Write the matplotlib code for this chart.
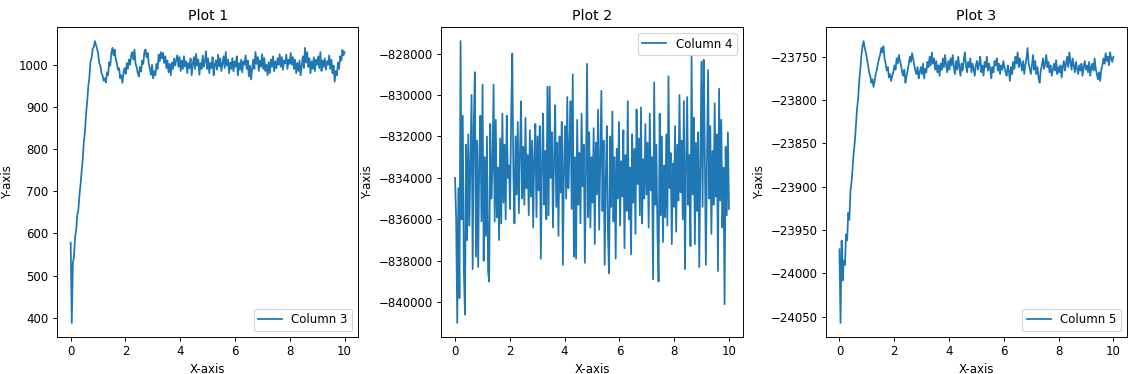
import numpy as np
import matplotlib
matplotlib.use("Agg")
import matplotlib.pyplot as plt

# values (250 samples over x = 0..10)
col3 = [
    578, 388, 530, 545, 592, 608, 643, 657, 692, 716, 748, 776, 818, 842, 884, 912, 948, 970, 1008, 1016, 1038, 1042, 1056, 1047, 1038,
    1026, 1004, 998, 980, 975, 962, 968, 958, 982, 975, 1006, 998, 1028, 1040, 1022, 1036, 1012, 1004, 988, 992, 968, 975, 957, 982, 992,
    978, 1004, 990, 1012, 1000, 1022, 1030, 1012, 1036, 1002, 994, 980, 972, 995, 984, 1010, 1002, 1030, 1036, 1018, 1028, 1002, 990, 976, 1000,
    968, 985, 975, 1002, 990, 1024, 1008, 1030, 1015, 1028, 1004, 1020, 992, 1010, 982, 1002, 975, 1005, 990, 1015, 998, 1012, 1022, 995, 1018,
    985, 1010, 990, 1020, 996, 1008, 980, 1004, 992, 1015, 975, 1002, 1018, 990, 1026, 998, 1012, 976, 1004, 990, 1022, 995, 1008, 1032, 990,
    1015, 980, 1004, 992, 1018, 975, 1000, 1010, 988, 1024, 996, 1015, 985, 1002, 1020, 992, 1030, 998, 1012, 980, 1005, 990, 1016, 984, 1008,
    995, 1020, 975, 1004, 988, 1012, 982, 1008, 1000, 1022, 990, 1010, 972, 998, 965, 992, 1012, 990, 1030, 1002, 1018, 985, 1010, 995, 1025,
    990, 1016, 985, 1000, 975, 1006, 980, 1012, 995, 1020, 984, 1008, 992, 1015, 1000, 1025, 995, 1018, 988, 1010, 1003, 1024, 990, 1012, 1002,
    1028, 1000, 1018, 990, 1012, 980, 1004, 985, 1010, 975, 998, 1020, 992, 1040, 1005, 1030, 995, 1015, 980, 1008, 990, 1018, 985, 1012, 1000,
    1020, 992, 1030, 985, 1010, 995, 1015, 988, 1008, 1000, 1022, 990, 1012, 980, 998, 960, 985, 975, 1005, 990, 1020, 1010, 1035, 1022, 1030,
]

col4 = [
    -834000, -836000, -841000, -834500, -839800, -827400, -836000, -831000, -838500, -840600, -832400, -837000, -831900, -836300, -833000, -830000, -838400, -831500, -828900, -837800, -832200, -838300, -833100, -831000, -836100,
    -829500, -838000, -833000, -836800, -832000, -838500, -839000, -831400, -835000, -833600, -829500, -836100, -831200, -835900, -833500, -837000, -832100, -836200, -830900, -835200, -832400, -836000, -831000, -834000, -833400,
    -835500, -831100, -828000, -833700, -836200, -832000, -834800, -831300, -835700, -832800, -830300, -835000, -832500, -835300, -831100, -834500, -832900, -835800, -831700, -834900, -832200, -836400, -833000, -831400, -835900,
    -832000, -834600, -831500, -837900, -833400, -830900, -835300, -832700, -836000, -829600, -835800, -829600, -834000, -831800, -836400, -833100, -830500, -835400, -832300, -836800, -832000, -834700, -831300, -838200, -833500,
    -831500, -835000, -830100, -834500, -832600, -830300, -835500, -829000, -837800, -833000, -837900, -831200, -835300, -832800, -836200, -830900, -834400, -832400, -838100, -833700, -828500, -835900, -831800, -836400, -833000,
    -835200, -831600, -837200, -832300, -834800, -830700, -836500, -833300, -829800, -835600, -832200, -838200, -834000, -831500, -836800, -838600, -832000, -835400, -830800, -836100, -833000, -837900, -832600, -835000, -831300,
    -836300, -833200, -834900, -831700, -837400, -832900, -835600, -830300, -836000, -833500, -837700, -831900, -835200, -832600, -836700, -830700, -834300, -832100, -835800, -830600, -836200, -833100, -835000, -831400, -834800,
    -832300, -836400, -830900, -834600, -833000, -838900, -829400, -835300, -832400, -836700, -839000, -830900, -835800, -832000, -837100, -833400, -835900, -831900, -836300, -829100, -834500, -832800, -837200, -833300, -835400,
    -831500, -836600, -832400, -835100, -830000, -834700, -832200, -836000, -830300, -838400, -833500, -830100, -835300, -832900, -837300, -828100, -834800, -831100, -837200, -832300, -835600, -831800, -838300, -833200, -828400,
    -835400, -828300, -832600, -838200, -833100, -828800, -835000, -831500, -836700, -832700, -835300, -830400, -834900, -831900, -838500, -829700, -835100, -831200, -836400, -833500, -840100, -832500, -835800, -831800, -835500,
]

col5 = [
    -23972, -24057, -23962, -24008, -23985, -23990, -23955, -23962, -23930, -23938, -23905, -23895, -23878, -23860, -23848, -23828, -23810, -23798, -23778, -23764, -23748, -23738, -23732, -23740, -23745,
    -23752, -23760, -23768, -23772, -23780, -23776, -23785, -23778, -23770, -23765, -23758, -23752, -23748, -23740, -23745, -23738, -23752, -23758, -23766, -23762, -23774, -23770, -23778, -23772, -23768,
    -23760, -23765, -23752, -23758, -23748, -23755, -23760, -23768, -23772, -23765, -23780, -23772, -23766, -23758, -23750, -23756, -23746, -23752, -23760, -23766, -23770, -23762, -23775, -23768, -23762,
    -23770, -23758, -23775, -23764, -23768, -23756, -23762, -23750, -23760, -23745, -23758, -23752, -23765, -23755, -23768, -23760, -23772, -23758, -23765, -23752, -23762, -23748, -23760, -23768, -23755,
    -23765, -23752, -23760, -23748, -23762, -23770, -23755, -23765, -23750, -23762, -23772, -23758, -23766, -23754, -23745, -23760, -23768, -23756, -23762, -23752, -23768, -23758, -23764, -23772, -23760,
    -23755, -23765, -23758, -23750, -23768, -23760, -23772, -23756, -23762, -23750, -23766, -23758, -23764, -23775, -23762, -23768, -23755, -23760, -23752, -23766, -23758, -23770, -23760, -23765, -23755,
    -23762, -23768, -23772, -23760, -23766, -23778, -23762, -23770, -23756, -23764, -23750, -23758, -23745, -23762, -23752, -23758, -23766, -23755, -23770, -23760, -23752, -23740, -23758, -23764, -23770,
    -23760, -23748, -23765, -23755, -23770, -23762, -23775, -23780, -23766, -23760, -23752, -23764, -23758, -23748, -23762, -23756, -23768, -23760, -23772, -23765, -23758, -23766, -23754, -23770, -23762,
    -23768, -23760, -23774, -23762, -23755, -23766, -23758, -23750, -23762, -23745, -23756, -23765, -23752, -23760, -23768, -23756, -23764, -23770, -23760, -23766, -23758, -23772, -23762, -23755, -23765,
    -23760, -23768, -23756, -23772, -23762, -23758, -23766, -23752, -23764, -23770, -23776, -23768, -23778, -23765, -23760, -23752, -23758, -23746, -23755, -23750, -23760, -23745, -23752, -23756, -23750,
]

titles = ["Plot 1", "Plot 2", "Plot 3"]
labels = ["Column 3", "Column 4", "Column 5"]
legend_locs = ["lower right", "upper right", "lower right"]

x = np.linspace(0, 10, len(col3))

# reference looks like a default figure drawn larger and scaled down, so use dpi 85
fig, axes = plt.subplots(1, 3, figsize=(1135 / 85, 374 / 85), dpi=85)
fig.subplots_adjust(left=0.0502, right=0.993, bottom=0.0989, top=0.9278, wspace=0.2757)

for ax, y, title, label, loc in zip(axes, [col3, col4, col5], titles, labels, legend_locs):
    ax.plot(x, y, label=label)
    ax.set_title(title)
    ax.set_xlabel("X-axis")
    ax.set_ylabel("Y-axis")
    ax.legend(loc=loc)

plt.savefig("out.png")
